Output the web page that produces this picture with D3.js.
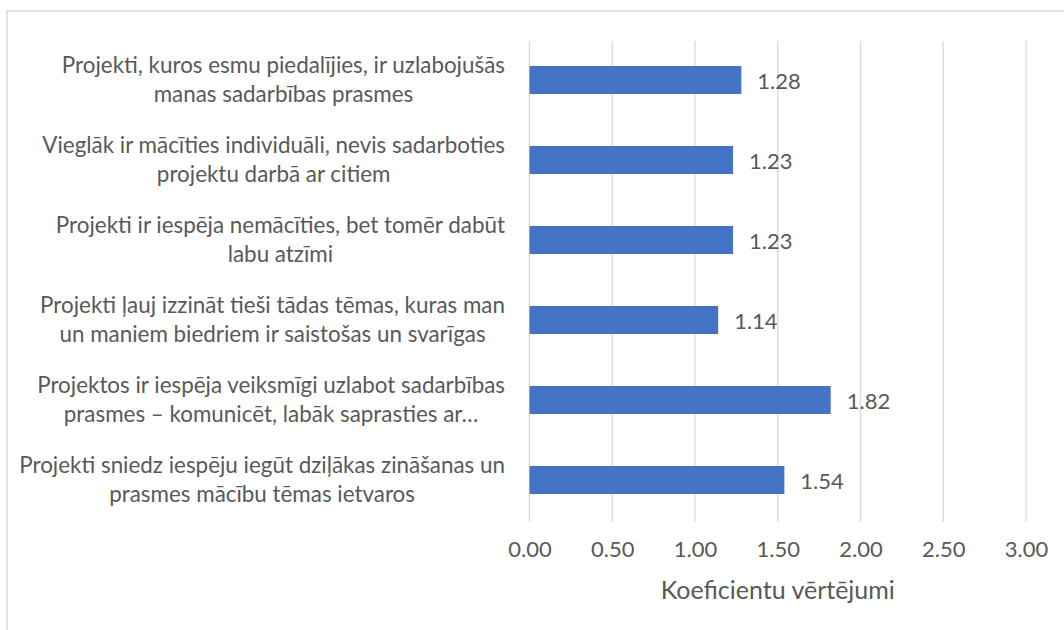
<!DOCTYPE html>
<html>
<head>
<meta charset="utf-8">
<script src="https://cdn.jsdelivr.net/npm/d3@7"></script>
<style>
  html, body { margin: 0; padding: 0; background: #fff; }
  svg { display: block; }
  text { font-family: Lato, "Open Sans", sans-serif; fill: #595959; }
</style>
</head>
<body>
<svg id="chart" width="1064" height="630"></svg>
<script>
const categories = [
  ["Projekti, kuros esmu piedalījies, ir uzlabojušās", "manas sadarbības prasmes"],
  ["Vieglāk ir mācīties individuāli, nevis sadarboties", "projektu darbā ar citiem"],
  ["Projekti ir iespēja nemācīties, bet tomēr dabūt", "labu atzīmi"],
  ["Projekti ļauj izzināt tieši tādas tēmas, kuras man", "un maniem biedriem ir saistošas un svarīgas"],
  ["Projektos ir iespēja veiksmīgi uzlabot sadarbības", "prasmes – komunicēt, labāk saprasties ar…"],
  ["Projekti sniedz iespēju iegūt dziļākas zināšanas un", "prasmes mācību tēmas ietvaros"]
];
const values = [1.28, 1.23, 1.23, 1.14, 1.82, 1.54];
const tickValues = [0, 0.5, 1, 1.5, 2, 2.5, 3];
const axisTitle = "Koeficientu vērtējumi";

const svg = d3.select("#chart");

// chart border
svg.append("rect")
  .attr("x", 7).attr("y", 11)
  .attr("width", 1080).attr("height", 640)
  .attr("fill", "none").attr("stroke", "#d9d9d9").attr("stroke-width", 1.5);

const x = d3.scaleLinear().domain([0, 3]).range([529.5, 1026]);
const ids = categories.map((c, i) => i);
const y = d3.scaleBand().domain(ids).range([40, 520])
  .paddingInner(0.65).paddingOuter(0.325);

// gridlines
svg.append("g").selectAll("line").data(tickValues).join("line")
  .attr("x1", d => x(d)).attr("x2", d => x(d))
  .attr("y1", 41).attr("y2", 522)
  .attr("stroke", "#d9d9d9").attr("stroke-width", 1.3);

// x axis labels
const xAxis = d3.axisBottom(x).tickValues(tickValues).tickFormat(d3.format(".2f")).tickSize(0).tickPadding(0);
const gx = svg.append("g").attr("transform", "translate(0,536)").call(xAxis);
gx.select(".domain").remove();
gx.selectAll("text").attr("font-size", 22).attr("fill", "#595959")
  .style("font-family", "Lato, 'Open Sans', sans-serif").attr("dy", "0.95em");

// bars
svg.append("g").selectAll("rect").data(values).join("rect")
  .attr("x", x(0))
  .attr("y", (d, i) => y(i))
  .attr("width", d => x(d) - x(0))
  .attr("height", y.bandwidth())
  .attr("fill", "#4472c4");

// value labels
svg.append("g").selectAll("text").data(values).join("text")
  .attr("x", d => x(d) + 16)
  .attr("y", (d, i) => y(i) + y.bandwidth() / 2 + 9)
  .attr("font-size", 22)
  .text(d => d3.format(".2f")(d));

// category labels
const labelRight = 505;
const lg = svg.append("g");
categories.forEach((lines, i) => {
  const cy = y(i) + y.bandwidth() / 2;
  const g = lg.append("g");
  const ts = lines.map((ln, k) => g.append("text")
    .attr("font-size", 22.4)
    .attr("y", cy - 7 + k * 29)
    .attr("text-anchor", "middle")
    .text(ln));
  const maxW = d3.max(ts, t => t.node().getComputedTextLength());
  ts.forEach(t => t.attr("x", labelRight - maxW / 2));
});

// axis title
svg.append("text")
  .attr("x", (x(0) + x(3)) / 2)
  .attr("y", 599)
  .attr("text-anchor", "middle")
  .attr("font-size", 25)
  .text(axisTitle);
</script>
</body>
</html>
